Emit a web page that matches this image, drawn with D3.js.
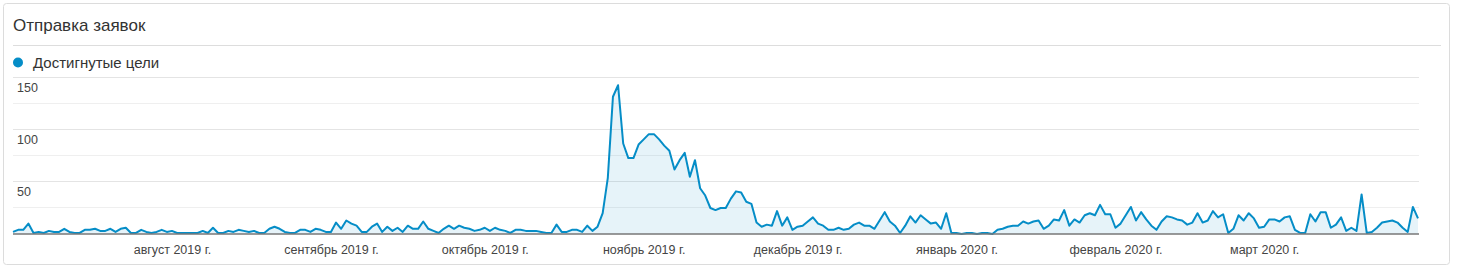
<!DOCTYPE html>
<html>
<head>
<meta charset="utf-8">
<script src="https://cdn.jsdelivr.net/npm/d3@7"></script>
<style>
  html, body { margin: 0; padding: 0; background: #fff; }
  body { width: 1458px; height: 267px; overflow: hidden; }
  svg { display: block; font-family: "Liberation Sans", Arial, sans-serif; }
</style>
</head>
<body>
<div id="chart"></div>
<script>
// Daily "Достигнутые цели", 1 July 2019 .. 31 March 2020
const startDate = "2019-07-01";
const goals = [
  2,4,4,10,1,2,1,3,2,2, 5,2,1,1,4,4,5,3,3,5, 2,5,6,1,1,4,2,1,2,4, 2,3,1,1,1,1,1,3,1,6, 1,1,3,2,4,3,2,
  3,1,1,5,7,5,2,1,1,4, 4,2,5,4,2,2,11,5,13,10, 8,2,2,7,10,2,7,3,6,2, 8,5,5,12,5,3,1,5,8,5, 8,6,5,3,4,
  6,3,6,4,3,1,4,4,3,3, 3,2,1,1,9, 2,2,4,4,2,8,3,7,
  20,54,132,143,87,73,73,86,91,96, 96,91,85,80,62,71,78,55,71,44, 37,25,23,25,25,34,41,40,31,29, 11,7,9,8,22,8,16,4,7,8, 12,
  16,10,8,4,4,6,4,5,9,11, 8,8,5,13,21,12,8,1,8,17, 11,18,14,10,11,5,20,1,1,0, 1,1,0,1,1,0,4,5,7,8, 8,12,10,
  12,13,5,8,14,13,23,8,14,11, 18,20,18,28,19,19,6,10,18,26, 13,21,14,8,4,12,17,16,14,13, 9,11,20,11,13,22,16,19,1,5, 18,13,20,
  15,6,7,14,14,12,16,17,4,1, 1,19,12,21,21,6,9,16,3,6, 3,38,1,2,6,11,12,13,11,6, 2,26,15
];
const yTicks = [50, 100, 150];
const gridTicks = [25, 50, 75, 100, 125, 150];
const monthTicks = ["2019-08-01","2019-09-01","2019-10-01","2019-11-01","2019-12-01","2020-01-01","2020-02-01","2020-03-01"];
const monthLabels = ["август 2019 г.","сентябрь 2019 г.","октябрь 2019 г.","ноябрь 2019 г.","декабрь 2019 г.","январь 2020 г.","февраль 2020 г.","март 2020 г."];
const title = "Отправка заявок";
const seriesName = "Достигнутые цели";

const W = 1458, H = 267;
const blue = "#058dc7";

const parse = d3.utcParse("%Y-%m-%d");
const t0 = parse(startDate);
const data = goals.map((v, i) => ({ date: d3.utcDay.offset(t0, i), value: v }));

const svg = d3.select("#chart").append("svg")
    .attr("width", W)
    .attr("height", H);

// card
svg.append("rect")
    .attr("x", 3.5).attr("y", 3.5)
    .attr("width", 1446).attr("height", 261)
    .attr("rx", 3)
    .attr("fill", "#fff")
    .attr("stroke", "#dcdcdc");

svg.append("text")
    .attr("x", 13).attr("y", 31)
    .attr("fill", "#333")
    .style("font-size", "17px")
    .text(title);

svg.append("line")
    .attr("x1", 13).attr("x2", 1441)
    .attr("y1", 45.5).attr("y2", 45.5)
    .attr("stroke", "#ddd");

// legend
svg.append("circle")
    .attr("cx", 18).attr("cy", 62.5).attr("r", 5)
    .attr("fill", blue);
svg.append("text")
    .attr("x", 33).attr("y", 68)
    .attr("fill", "#333")
    .style("font-size", "15px")
    .text(seriesName);

// scales
const x = d3.scaleUtc()
    .domain(d3.extent(data, d => d.date))
    .range([13, 1418]);
const y = d3.scaleLinear()
    .domain([0, 150])
    .range([234, 78]);

// gridlines
svg.append("g")
    .selectAll("line")
    .data(gridTicks)
    .join("line")
    .attr("x1", 13).attr("x2", 1419)
    .attr("y1", d => Math.round(y(d)) - 0.5)
    .attr("y2", d => Math.round(y(d)) - 0.5)
    .attr("stroke", d => d % 50 === 0 ? "#e4e4e4" : "#efefef");

// y labels sit just under their gridline
svg.append("g")
    .selectAll("text")
    .data(yTicks)
    .join("text")
    .attr("x", 17)
    .attr("y", d => y(d) + 13.5)
    .attr("fill", "#444")
    .style("font-size", "12.5px")
    .text(d => d);

// area + line
const area = d3.area()
    .x(d => x(d.date))
    .y0(y(0))
    .y1(d => y(d.value));
const line = d3.line()
    .x(d => x(d.date))
    .y(d => y(d.value));

svg.append("path")
    .datum(data)
    .attr("d", area)
    .attr("fill", blue)
    .attr("fill-opacity", 0.1);

svg.append("path")
    .datum(data)
    .attr("d", line)
    .attr("fill", "none")
    .attr("stroke", blue)
    .attr("stroke-width", 2)
    .attr("stroke-linejoin", "round");

// baseline
svg.append("line")
    .attr("x1", 13).attr("x2", 1419)
    .attr("y1", y(0)).attr("y2", y(0))
    .attr("stroke", "#777")
    .attr("stroke-width", 1.5);

// month labels
const xAxis = d3.axisBottom(x)
    .tickValues(monthTicks.map(parse))
    .tickFormat((d, i) => monthLabels[i])
    .tickSize(0)
    .tickPadding(0);

const gx = svg.append("g")
    .attr("transform", `translate(0, ${y(0)})`)
    .call(xAxis);
gx.select(".domain").remove();
gx.selectAll("text")
    .attr("dy", null)
    .attr("y", 19.5)
    .attr("fill", "#444")
    .style("font-size", "12.5px")
    .style("font-family", "\"Liberation Sans\", Arial, sans-serif");
</script>
</body>
</html>
